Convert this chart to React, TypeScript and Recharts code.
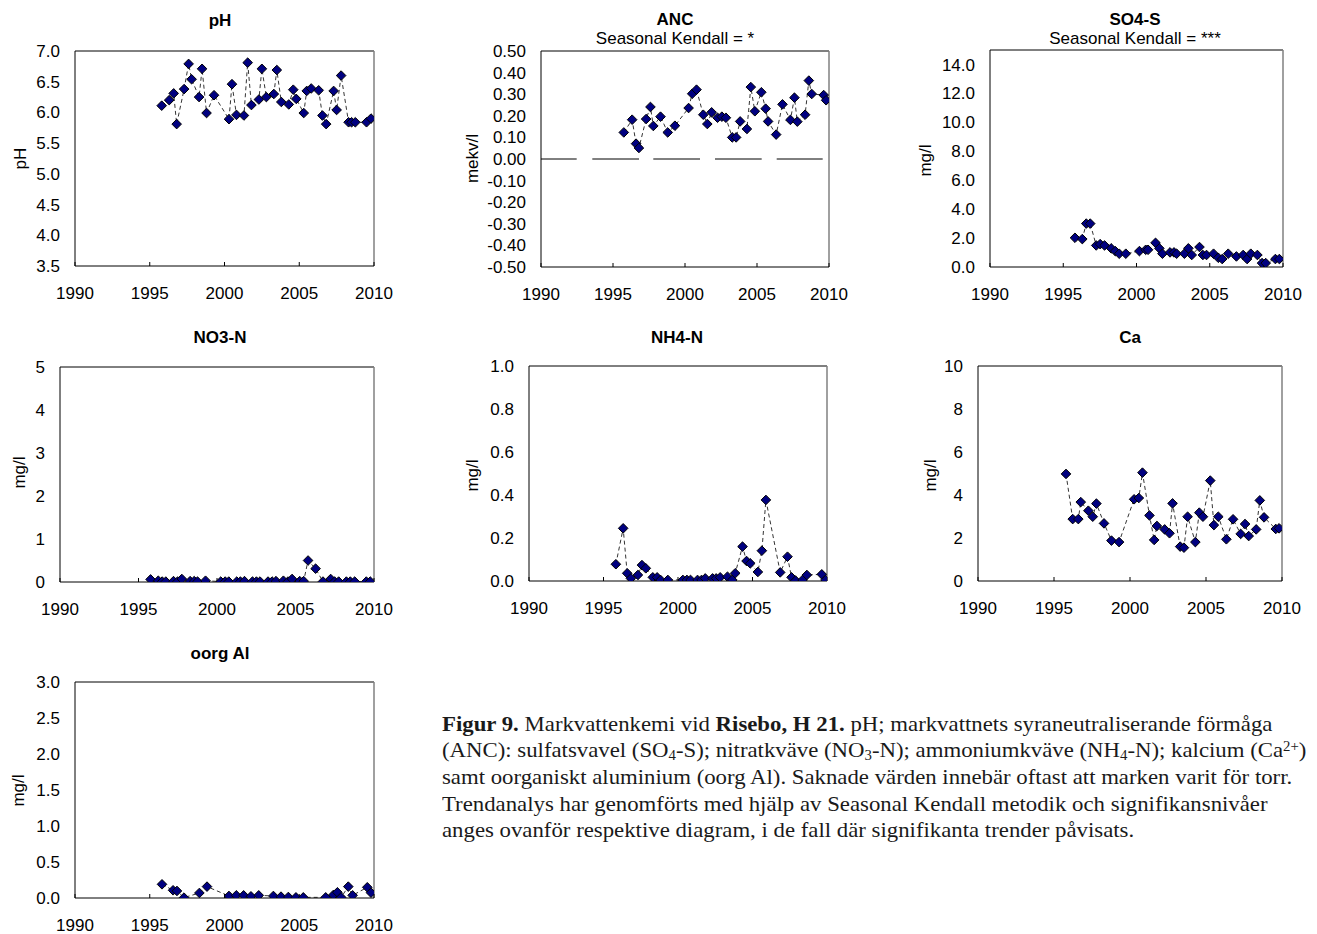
import React from "react";
import { LineChart, Line, XAxis, YAxis, ReferenceLine } from "recharts";

const FONT = "'Liberation Sans', Arial, sans-serif";
const SERIF = "'Liberation Serif', 'Times New Roman', serif";

const YEAR_TICKS = [1990, 1995, 2000, 2005, 2010];

// [year, value]
const PH: [number, number][] = [
  [1995.8, 6.11], [1996.3, 6.2], [1996.6, 6.31], [1996.8, 5.81], [1997.3, 6.38], [1997.6, 6.79],
  [1997.8, 6.54], [1998.3, 6.25], [1998.5, 6.71], [1998.8, 5.99], [1999.3, 6.28], [2000.3, 5.89],
  [2000.5, 6.46], [2000.8, 5.96], [2001.3, 5.95], [2001.55, 6.81], [2001.8, 6.12], [2002.3, 6.21],
  [2002.5, 6.71], [2002.8, 6.25], [2003.3, 6.3], [2003.5, 6.69], [2003.8, 6.17], [2004.3, 6.13],
  [2004.6, 6.37], [2004.8, 6.22], [2005.3, 5.99], [2005.5, 6.35], [2005.8, 6.39], [2006.3, 6.36],
  [2006.55, 5.95], [2006.8, 5.81], [2007.3, 6.35], [2007.5, 6.04], [2007.8, 6.6], [2008.3, 5.84],
  [2008.5, 5.84], [2008.75, 5.84], [2009.5, 5.84], [2009.8, 5.9],
];

const ANC: [number, number][] = [
  [1995.75, 0.123], [1996.33, 0.182], [1996.6, 0.071], [1996.8, 0.051], [1997.3, 0.185], [1997.6, 0.241],
  [1997.8, 0.153], [1998.3, 0.196], [1998.8, 0.123], [1999.3, 0.154], [2000.25, 0.236], [2000.5, 0.302],
  [2000.8, 0.321], [2001.27, 0.205], [2001.55, 0.162], [2001.85, 0.216], [2002.26, 0.191], [2002.56, 0.196],
  [2002.84, 0.191], [2003.28, 0.1], [2003.55, 0.1], [2003.83, 0.174], [2004.3, 0.139], [2004.57, 0.333],
  [2004.85, 0.221], [2005.3, 0.309], [2005.6, 0.233], [2005.77, 0.174], [2006.33, 0.113], [2006.77, 0.253],
  [2007.32, 0.181], [2007.6, 0.284], [2007.8, 0.173], [2008.34, 0.205], [2008.6, 0.363], [2008.8, 0.301],
  [2009.63, 0.296], [2009.8, 0.272],
];

const SO4: [number, number][] = [
  [1995.8, 2.02], [1996.3, 1.93], [1996.57, 3.0], [1996.84, 3.0], [1997.25, 1.49], [1997.52, 1.58],
  [1997.82, 1.49], [1998.27, 1.29], [1998.55, 1.1], [1998.82, 0.92], [1999.27, 0.92], [2000.2, 1.1],
  [2000.63, 1.19], [2000.79, 1.19], [2001.3, 1.67], [2001.56, 1.29], [2001.77, 0.92], [2002.29, 1.01],
  [2002.56, 1.01], [2002.74, 0.92], [2003.27, 0.92], [2003.54, 1.29], [2003.77, 0.83], [2004.3, 1.38],
  [2004.53, 0.83], [2004.78, 0.83], [2005.26, 0.92], [2005.58, 0.64], [2005.85, 0.55], [2006.26, 0.92],
  [2006.82, 0.73], [2007.28, 0.83], [2007.55, 0.55], [2007.8, 0.92], [2008.25, 0.83], [2008.57, 0.27],
  [2008.82, 0.27], [2009.48, 0.55], [2009.75, 0.55],
];

const NO3: [number, number][] = [
  [1995.77, 0.06], [1996.26, 0.03], [1996.51, 0.01], [1996.74, 0.01], [1997.23, 0.02], [1997.49, 0.01],
  [1997.76, 0.07], [1998.29, 0.02], [1998.55, 0.02], [1998.76, 0.01], [1999.27, 0.03], [2000.24, 0.01],
  [2000.52, 0.01], [2000.75, 0.01], [2001.26, 0.01], [2001.49, 0.01], [2001.75, 0.02], [2002.26, 0.01],
  [2002.51, 0.01], [2002.74, 0.01], [2003.25, 0.01], [2003.51, 0.01], [2003.76, 0.02], [2004.23, 0.03],
  [2004.52, 0.01], [2004.78, 0.07], [2005.27, 0.02], [2005.52, 0.02], [2005.8, 0.5], [2006.28, 0.31],
  [2006.75, 0.01], [2007.24, 0.07], [2007.49, 0.01], [2007.75, 0.01], [2008.24, 0.01], [2008.49, 0.01],
  [2008.77, 0.01], [2009.51, 0.01], [2009.76, 0.01],
];

const NH4: [number, number][] = [
  [1995.83, 0.078], [1996.32, 0.245], [1996.59, 0.036], [1996.84, 0.012], [1997.31, 0.028], [1997.58, 0.074],
  [1997.84, 0.059], [1998.31, 0.017], [1998.6, 0.017], [1998.83, 0.005], [1999.32, 0.005], [2000.33, 0.005],
  [2000.6, 0.005], [2000.84, 0.005], [2001.31, 0.005], [2001.58, 0.005], [2001.83, 0.012], [2002.32, 0.012],
  [2002.56, 0.012], [2002.83, 0.017], [2003.32, 0.02], [2003.64, 0.005], [2003.84, 0.036], [2004.33, 0.16],
  [2004.6, 0.093], [2004.85, 0.082], [2005.36, 0.042], [2005.63, 0.141], [2005.9, 0.377], [2006.86, 0.04],
  [2007.35, 0.113], [2007.62, 0.017], [2007.89, 0.002], [2008.36, 0.005], [2008.65, 0.028], [2009.65, 0.031],
  [2009.9, 0.005],
];

const CA: [number, number][] = [
  [1995.79, 4.98], [1996.23, 2.88], [1996.6, 2.88], [1996.76, 3.67], [1997.26, 3.27], [1997.55, 2.99],
  [1997.79, 3.6], [1998.29, 2.68], [1998.78, 1.88], [1999.28, 1.81], [2000.27, 3.8], [2000.58, 3.86],
  [2000.82, 5.04], [2001.28, 3.05], [2001.59, 1.91], [2001.77, 2.56], [2002.28, 2.4], [2002.6, 2.22],
  [2002.8, 3.61], [2003.3, 1.6], [2003.55, 1.55], [2003.79, 2.99], [2004.3, 1.81], [2004.56, 3.18],
  [2004.8, 2.99], [2005.28, 4.67], [2005.52, 2.6], [2005.81, 2.99], [2006.34, 1.94], [2006.78, 2.87],
  [2007.28, 2.19], [2007.57, 2.65], [2007.81, 2.09], [2008.3, 2.4], [2008.54, 3.75], [2008.82, 2.96],
  [2009.59, 2.42], [2009.81, 2.45],
];

const AL: [number, number][] = [
  [1995.82, 0.19], [1996.56, 0.107], [1996.82, 0.098], [1997.29, 0.005], [1998.32, 0.07], [1998.83, 0.158],
  [2000.3, 0.028], [2000.79, 0.037], [2001.28, 0.037], [2001.77, 0.023], [2002.29, 0.037], [2003.27, 0.028],
  [2003.78, 0.019], [2004.27, 0.014], [2004.78, 0.009], [2005.27, 0.009], [2006.77, 0.009], [2007.28, 0.042],
  [2007.55, 0.079], [2007.8, 0.009], [2008.28, 0.158], [2008.57, 0.037], [2009.55, 0.149], [2009.8, 0.074],
];

const PH_TICKS = [3.5, 4, 4.5, 5, 5.5, 6, 6.5, 7];
const ANC_TICKS = [-0.5, -0.4, -0.3, -0.2, -0.1, 0, 0.1, 0.2, 0.3, 0.4, 0.5];
const SO4_TICKS = [0, 2, 4, 6, 8, 10, 12, 14];
const NO3_TICKS = [0, 1, 2, 3, 4, 5];
const NH4_TICKS = [0, 0.2, 0.4, 0.6, 0.8, 1];
const CA_TICKS = [0, 2, 4, 6, 8, 10];
const AL_TICKS = [0, 0.5, 1, 1.5, 2, 2.5, 3];

const ML = 70;
const MT = 10;
const MR = 34;
const MB = 45;

const Diamond = (props: any) => {
  const { cx, cy, index } = props;
  if (cx == null || cy == null) return <g key={`e${index}`} />;
  const r = 4.8;
  return (
    <path
      key={`d${index}`}
      d={`M${cx},${cy - r}L${cx + r},${cy}L${cx},${cy + r}L${cx - r},${cy}Z`}
      fill="#000080"
      stroke="#000"
      strokeWidth={1}
    />
  );
};

interface PanelProps {
  data: [number, number][];
  left: number;
  top: number;
  width: number;
  height: number;
  yDomain: [number, number];
  yTicks: number[];
  digits: number;
  zeroLine?: boolean;
}

const Panel: React.FC<PanelProps> = ({ data, left, top, width, height, yDomain, yTicks, digits, zeroLine }) => {
  const rows = data.map(([year, value]) => ({ year, value }));
  const tickStyle = { fill: "#000", fontSize: 17, fontFamily: FONT };
  return (
    <div style={{ position: "absolute", left: left - ML, top: top - MT }}>
      <LineChart
        width={width + ML + MR}
        height={height + MT + MB}
        data={rows}
        margin={{ top: MT, right: MR, left: 0, bottom: 0 }}
      >
        <XAxis
          dataKey="year"
          type="number"
          domain={[1990, 2010]}
          ticks={YEAR_TICKS}
          interval={0}
          allowDataOverflow
          height={MB}
          stroke="#000"
          tickSize={-4}
          tickMargin={25}
          tick={tickStyle}
        />
        <YAxis
          type="number"
          domain={yDomain}
          ticks={yTicks}
          interval={0}
          allowDataOverflow
          width={ML}
          stroke="#000"
          tickLine={false}
          tickSize={0}
          tickMargin={15}
          tick={tickStyle}
          tickFormatter={(v: number) => v.toFixed(digits)}
        />
        <ReferenceLine y={yDomain[1]} stroke="#000" strokeWidth={1} />
        <ReferenceLine x={2010} stroke="#808080" strokeWidth={1.5} />
        {zeroLine && (
          <ReferenceLine
            y={0}
            stroke="#000"
            strokeWidth={1}
            strokeDasharray="35.7 15.6 46.7 14.3 46.7 15 46.7 15 46 20"
          />
        )}
        <Line
          dataKey="value"
          type="linear"
          stroke="#000"
          strokeWidth={0.8}
          strokeDasharray="4 3"
          dot={Diamond}
          activeDot={false}
          isAnimationActive={false}
        />
      </LineChart>
    </div>
  );
};

const Title: React.FC<{ x: number; y: number; text: string; bold?: boolean }> = ({ x, y, text, bold }) => (
  <div
    style={{
      position: "absolute",
      left: x - 150,
      top: y - 8.5,
      width: 300,
      textAlign: "center",
      fontSize: 17,
      lineHeight: "17px",
      fontWeight: bold ? "bold" : "normal",
      fontFamily: FONT,
      color: "#000",
      whiteSpace: "nowrap",
    }}
  >
    {text}
  </div>
);

const YLabel: React.FC<{ x: number; y: number; text: string }> = ({ x, y, text }) => (
  <div
    style={{
      position: "absolute",
      left: x - 60,
      top: y - 8.5,
      width: 120,
      textAlign: "center",
      fontSize: 17,
      lineHeight: "17px",
      fontFamily: FONT,
      color: "#000",
      transform: "rotate(-90deg)",
      whiteSpace: "nowrap",
    }}
  >
    {text}
  </div>
);

const sub: React.CSSProperties = { fontSize: "0.65em", verticalAlign: "-0.25em", lineHeight: 0 };
const sup: React.CSSProperties = { fontSize: "0.65em", verticalAlign: "0.45em", lineHeight: 0 };

const Caption: React.FC = () => (
  <div
    style={{
      position: "absolute",
      left: 442,
      top: 710.5,
      fontFamily: SERIF,
      fontSize: 21,
      lineHeight: "26.7px",
      color: "#1a1a1a",
      whiteSpace: "nowrap",
      transform: "scaleX(1.085)",
      transformOrigin: "0 0",
    }}
  >
    <div>
      <b>Figur 9.</b> Markvattenkemi vid <b>Risebo, H 21.</b> pH; markvattnets syraneutraliserande förmåga
    </div>
    <div>
      (ANC): sulfatsvavel (SO<span style={sub}>4</span>-S); nitratkväve (NO<span style={sub}>3</span>-N); ammoniumkväve (NH
      <span style={sub}>4</span>-N); kalcium (Ca<span style={sup}>2+</span>)
    </div>
    <div>samt oorganiskt aluminium (oorg Al). Saknade värden innebär oftast att marken varit för torr.</div>
    <div>Trendanalys har genomförts med hjälp av Seasonal Kendall metodik och signifikansnivåer</div>
    <div>anges ovanför respektive diagram, i de fall där signifikanta trender påvisats.</div>
  </div>
);

export default function App() {
  return (
    <div style={{ position: "absolute", left: 0, top: 0, width: 1317, height: 934, background: "#fff", fontFamily: FONT, overflow: "hidden" }}>
      <Panel data={PH} left={75} top={51} width={299} height={215} yDomain={[3.5, 7]} yTicks={PH_TICKS} digits={1} />
      <Panel data={ANC} left={541} top={51} width={288} height={216} yDomain={[-0.5, 0.5]} yTicks={ANC_TICKS} digits={2} zeroLine />
      <Panel data={SO4} left={990} top={50} width={293} height={217} yDomain={[0, 15]} yTicks={SO4_TICKS} digits={1} />
      <Panel data={NO3} left={60} top={367} width={314} height={215} yDomain={[0, 5]} yTicks={NO3_TICKS} digits={0} />
      <Panel data={NH4} left={529} top={366} width={298} height={215} yDomain={[0, 1]} yTicks={NH4_TICKS} digits={1} />
      <Panel data={CA} left={978} top={366} width={304} height={215} yDomain={[0, 10]} yTicks={CA_TICKS} digits={0} />
      <Panel data={AL} left={75} top={682} width={299} height={216} yDomain={[0, 3]} yTicks={AL_TICKS} digits={1} />

      <Title x={220} y={20} text="pH" bold />
      <Title x={675} y={19} text="ANC" bold />
      <Title x={675} y={38.5} text="Seasonal Kendall = *" />
      <Title x={1135} y={19} text="SO4-S" bold />
      <Title x={1135} y={38.5} text="Seasonal Kendall = ***" />
      <Title x={220} y={337.5} text="NO3-N" bold />
      <Title x={677} y={337.5} text="NH4-N" bold />
      <Title x={1130} y={337.5} text="Ca" bold />
      <Title x={220} y={653} text="oorg Al" bold />

      <YLabel x={20} y={158} text="pH" />
      <YLabel x={472} y={158} text="mekv/l" />
      <YLabel x={925} y={160} text="mg/l" />
      <YLabel x={19} y={472} text="mg/l" />
      <YLabel x={472} y={475} text="mg/l" />
      <YLabel x={930} y={475} text="mg/l" />
      <YLabel x={18} y={790} text="mg/l" />

      <Caption />
    </div>
  );
}
